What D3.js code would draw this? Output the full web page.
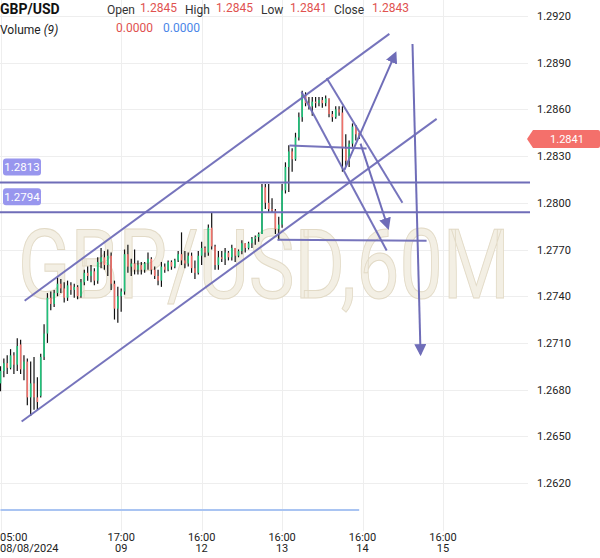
<!DOCTYPE html>
<html>
<head>
<meta charset="utf-8">
<script src="https://cdn.jsdelivr.net/npm/d3@7"></script>
<style>
  html, body { margin: 0; padding: 0; background: #fff; }
  svg { display: block; font-family: Roboto, "Noto Sans", sans-serif; }
</style>
</head>
<body>
<svg id="chart"></svg>
<script>
"use strict";

// hourly candles, [open, high, low, close], bar 0 = 08/08 05:00
const candles = [
  [1.2684,1.2695,1.2679,1.2692],[1.2692,1.2700,1.2688,1.2697],[1.2697,1.2702,1.2690,1.2694],[1.2694,1.2706,1.2693,1.2702],
  [1.2702,1.2704,1.2690,1.2696],[1.2696,1.2713,1.2692,1.2708],[1.2709,1.2712,1.2690,1.2693],[1.2693,1.2702,1.2686,1.2698],
  [1.2698,1.2700,1.2670,1.2675],[1.2675,1.2698,1.2663,1.2684],[1.2684,1.2701,1.2667,1.2675],[1.2675,1.2688,1.2667,1.2672],
  [1.2676,1.2703,1.2675,1.2701],[1.2701,1.2722,1.2699,1.2716],[1.2716,1.2742,1.2710,1.2739],[1.2739,1.2743,1.2731,1.2735],
  [1.2735,1.2744,1.2733,1.2742],[1.2742,1.2752,1.2740,1.2748],[1.2748,1.2751,1.2742,1.2745],[1.2745,1.2749,1.2736,1.2739],
  [1.2739,1.2750,1.2737,1.2747],[1.2747,1.2749,1.2741,1.2744],[1.2744,1.2748,1.2739,1.2746],[1.2746,1.2747,1.2738,1.2740],
  [1.2740,1.2751,1.2739,1.2749],[1.2749,1.2757,1.2747,1.2755],[1.2755,1.2759,1.2750,1.2753],[1.2753,1.2760,1.2749,1.2756],
  [1.2756,1.2758,1.2747,1.2750],[1.2750,1.2765,1.2748,1.2762],[1.2762,1.2771,1.2758,1.2765],[1.2765,1.2769,1.2757,1.2760],
  [1.2760,1.2770,1.2753,1.2766],[1.2766,1.2768,1.2744,1.2748],[1.2748,1.2750,1.2725,1.2732],[1.2732,1.2746,1.2723,1.2740],
  [1.2740,1.2745,1.2730,1.2743],[1.2743,1.2770,1.2741,1.2767],[1.2767,1.2773,1.2755,1.2759],[1.2759,1.2764,1.2753,1.2761],
  [1.2761,1.2770,1.2754,1.2757],[1.2757,1.2763,1.2754,1.2760],[1.2760,1.2762,1.2754,1.2757],[1.2757,1.2762,1.2755,1.2761],
  [1.2761,1.2768,1.2757,1.2764],[1.2764,1.2765,1.2754,1.2757],[1.2757,1.2759,1.2751,1.2753],[1.2753,1.2757,1.2747,1.2750],
  [1.2750,1.2762,1.2746,1.2759],[1.2759,1.2761,1.2755,1.2757],[1.2757,1.2763,1.2756,1.2762],[1.2762,1.2763,1.2757,1.2759],
  [1.2759,1.2764,1.2758,1.2763],[1.2763,1.2769,1.2762,1.2767],[1.2767,1.2781,1.2760,1.2763],[1.2763,1.2769,1.2758,1.2761],
  [1.2761,1.2768,1.2759,1.2766],[1.2766,1.2768,1.2755,1.2758],[1.2758,1.2763,1.2751,1.2755],[1.2755,1.2769,1.2754,1.2766],
  [1.2766,1.2775,1.2760,1.2771],[1.2771,1.2772,1.2765,1.2768],[1.2768,1.2786,1.2766,1.2784],[1.2784,1.2794,1.2770,1.2772],
  [1.2772,1.2773,1.2757,1.2760],[1.2760,1.2769,1.2757,1.2765],[1.2765,1.2769,1.2762,1.2764],[1.2764,1.2771,1.2760,1.2768],
  [1.2768,1.2769,1.2763,1.2765],[1.2765,1.2773,1.2763,1.2771],[1.2771,1.2771,1.2762,1.2766],[1.2766,1.2770,1.2765,1.2769],
  [1.2769,1.2776,1.2767,1.2774],[1.2774,1.2774,1.2768,1.2771],[1.2771,1.2775,1.2770,1.2774],[1.2774,1.2778,1.2771,1.2777],
  [1.2777,1.2779,1.2773,1.2778],[1.2778,1.2781,1.2775,1.2780],[1.2780,1.2812,1.2780,1.2810],[1.2810,1.2812,1.2796,1.2800],
  [1.2800,1.2812,1.2794,1.2796],[1.2796,1.2803,1.2794,1.2795],[1.2795,1.2796,1.2780,1.2783],[1.2783,1.2791,1.2776,1.2786],
  [1.2786,1.2812,1.2784,1.2808],[1.2808,1.2826,1.2806,1.2823],[1.2823,1.2837,1.2807,1.2833],[1.2833,1.2835,1.2820,1.2828],
  [1.2828,1.2845,1.2827,1.2842],[1.2842,1.2858,1.2840,1.2855],[1.2855,1.2872,1.2852,1.2869],[1.2869,1.2871,1.2862,1.2864],
  [1.2864,1.2868,1.2860,1.2862],[1.2862,1.2868,1.2856,1.2865],[1.2865,1.2868,1.2861,1.2864],[1.2864,1.2868,1.2862,1.2866],
  [1.2866,1.2868,1.2861,1.2864],[1.2864,1.2869,1.2862,1.2867],[1.2867,1.2867,1.2855,1.2857],[1.2857,1.2859,1.2852,1.2855],
  [1.2855,1.2862,1.2854,1.2860],[1.2860,1.2862,1.2856,1.2858],[1.2858,1.2862,1.2820,1.2835],[1.2835,1.2844,1.2823,1.2827],
  [1.2827,1.2840,1.2823,1.2838],[1.2838,1.2851,1.2836,1.2849],[1.2849,1.2850,1.2840,1.2844],[1.2845,1.2845,1.2841,1.2843]
];

// volume MA(9) – flat zero over the whole range
const volumeMA = [[0, 0], [107, 0]];

const priceTicks = [1.2620, 1.2650, 1.2680, 1.2710, 1.2740, 1.2770, 1.2800, 1.2830, 1.2860, 1.2890, 1.2920];
const timeTicks = [0, 36, 60, 84, 108, 132];
const timeLabels = [["05:00", "08/08/2024"], ["17:00", "09"], ["16:00", "12"], ["16:00", "13"], ["16:00", "14"], ["16:00", "15"]];

// header values
const ohlcNames = ["Open", "High", "Low", "Close"];
const ohlcValues = ["1.2845", "1.2845", "1.2841", "1.2843"];
const lastPrice = 1.2841;

// horizontal levels with their labels
const levels = [1.2813, 1.2794];

// drawn trend lines, [[bar, price], [bar, price]]
const trendLines = [
  [[7.2, 1.27371], [116.0, 1.29085]],   // channel top
  [[6.3, 1.26595], [130.1, 1.28539]],   // channel bottom
  [[89.8, 1.28712], [115.2, 1.27694]],  // fall from the top
  [[97.3, 1.28802], [119.9, 1.28000]],  // second fall
  [[86.2, 1.28368], [109.2, 1.28349]],  // flat ledge
  [[82.6, 1.27763], [127.1, 1.27757]]   // support ledge
];
const arrows = [
  [[102.6, 1.28212], [117.8, 1.28960]],
  [[107.4, 1.28380], [115.6, 1.27840]],
  [[122.9, 1.29020], [125.3, 1.27030]]
];

const width = 600, height = 558;
const plotRight = 528;
const purple = "#6f6db8";

const svg = d3.select("#chart")
  .attr("width", width)
  .attr("height", height);

const x = d3.scaleLinear().domain([0, 132]).range([0.5, 443]);
const y = d3.scaleLinear().domain([1.2620, 1.2920]).range([483, 16]);
const yVol = d3.scaleLinear().domain([0, 1]).range([510, 490]);

// grid
svg.append("g")
  .selectAll("line")
  .data(priceTicks)
  .join("line")
  .attr("x1", 0).attr("x2", plotRight)
  .attr("y1", d => Math.round(y(d)) + 0.5).attr("y2", d => Math.round(y(d)) + 0.5)
  .attr("stroke", "#eeeeee");
svg.append("g")
  .selectAll("line")
  .data(timeTicks)
  .join("line")
  .attr("x1", d => Math.round(x(d)) + 0.5).attr("x2", d => Math.round(x(d)) + 0.5)
  .attr("y1", 0).attr("y2", 531)
  .attr("stroke", "#eeeeee");

// watermark
svg.append("text")
  .attr("x", 18)
  .attr("y", 298)
  .attr("textLength", 492)
  .attr("lengthAdjust", "spacingAndGlyphs")
  .style("font-size", "96px")
  .attr("fill", "#f3efe4")
  .attr("stroke", "#e2dac6")
  .attr("stroke-width", 1)
  .text("GBP/USD,60M");

// candles
const candle = svg.append("g")
  .selectAll("g")
  .data(candles)
  .join("g");
candle.append("line")
  .attr("x1", (d, i) => x(i)).attr("x2", (d, i) => x(i))
  .attr("y1", d => y(d[1])).attr("y2", d => y(d[2]))
  .attr("stroke", "#111")
  .attr("stroke-width", 1.2);
candle.append("rect")
  .attr("x", (d, i) => x(i) - 0.8)
  .attr("width", 1.6)
  .attr("y", d => y(Math.max(d[0], d[3])))
  .attr("height", d => Math.max(1, Math.abs(y(d[0]) - y(d[3]))))
  .attr("fill", d => d[3] >= d[0] ? "#1fc27a" : "#f0716a");

// volume line
svg.append("path")
  .datum(volumeMA)
  .attr("d", d3.line().x(d => x(d[0])).y(d => yVol(d[1])))
  .attr("stroke", "#a9c4f2")
  .attr("stroke-width", 2)
  .attr("fill", "none");

// horizontal levels
svg.append("g")
  .selectAll("line")
  .data(levels)
  .join("line")
  .attr("x1", 0).attr("x2", 530)
  .attr("y1", d => y(d)).attr("y2", d => y(d))
  .attr("stroke", purple)
  .attr("stroke-width", 2);
const levelTag = svg.append("g")
  .selectAll("g")
  .data(levels)
  .join("g")
  .attr("transform", d => `translate(3,${y(d) - 24})`);
levelTag.append("rect")
  .attr("width", 38).attr("height", 17).attr("rx", 3)
  .attr("fill", "#9896ee");
levelTag.append("text")
  .attr("x", 19).attr("y", 12.5)
  .attr("text-anchor", "middle")
  .attr("fill", "#fff")
  .style("font-size", "11.5px")
  .text(d => d.toFixed(4));

// trend lines
svg.append("g")
  .selectAll("line")
  .data(trendLines)
  .join("line")
  .attr("x1", d => x(d[0][0])).attr("y1", d => y(d[0][1]))
  .attr("x2", d => x(d[1][0])).attr("y2", d => y(d[1][1]))
  .attr("stroke", purple)
  .attr("stroke-width", 2)
  .attr("stroke-opacity", 0.95);

// arrows
svg.append("defs").append("marker")
  .attr("id", "head")
  .attr("viewBox", "0 0 10 10")
  .attr("refX", 8).attr("refY", 5)
  .attr("markerWidth", 6).attr("markerHeight", 6)
  .attr("orient", "auto")
  .append("path")
  .attr("d", "M0,0L10,5L0,10z")
  .attr("fill", purple);
svg.append("g")
  .selectAll("line")
  .data(arrows)
  .join("line")
  .attr("x1", d => x(d[0][0])).attr("y1", d => y(d[0][1]))
  .attr("x2", d => x(d[1][0])).attr("y2", d => y(d[1][1]))
  .attr("stroke", purple)
  .attr("stroke-width", 2)
  .attr("marker-end", "url(#head)");

// price axis
svg.append("g")
  .selectAll("text")
  .data(priceTicks)
  .join("text")
  .attr("x", 537)
  .attr("y", d => y(d) + 4)
  .attr("fill", "#222")
  .style("font-size", "11px")
  .text(d => d.toFixed(4));

// last price tag
const lp = svg.append("g").attr("transform", `translate(0,${y(lastPrice)})`);
lp.append("path")
  .attr("d", "M527,0L533,-9H598Q600,-9 600,-7V7Q600,9 598,9H533Z")
  .attr("fill", "#f4706b");
lp.append("text")
  .attr("x", 567).attr("y", 4)
  .attr("text-anchor", "middle")
  .attr("fill", "#fff")
  .style("font-size", "11px")
  .text(lastPrice.toFixed(4));

// time axis
const tl = svg.append("g")
  .selectAll("text")
  .data(timeTicks)
  .join("text")
  .attr("x", (d, i) => i === 0 ? 0 : x(d))
  .attr("text-anchor", (d, i) => i === 0 ? "start" : "middle")
  .attr("fill", "#222")
  .style("font-size", "11px");
tl.append("tspan").attr("y", 541).text((d, i) => timeLabels[i][0]);
tl.append("tspan").attr("x", (d, i) => i === 0 ? 0 : x(d)).attr("y", 552).text((d, i) => timeLabels[i][1]);

// header
svg.append("text")
  .attr("x", 0).attr("y", 14)
  .attr("fill", "#111")
  .style("font-size", "14px").style("font-weight", "bold")
  .text("GBP/USD");
const hdrX = [107, 185, 261, 334];
const valX = [140, 216, 290, 372];
svg.append("g")
  .selectAll("text")
  .data(ohlcNames)
  .join("text")
  .attr("x", (d, i) => hdrX[i]).attr("y", 14)
  .attr("fill", "#333")
  .style("font-size", "12px")
  .text(d => d);
svg.append("g")
  .selectAll("text")
  .data(ohlcValues)
  .join("text")
  .attr("x", (d, i) => valX[i]).attr("y", 12)
  .attr("fill", "#e0524f")
  .style("font-size", "12px")
  .text(d => d);
const vol = svg.append("text")
  .attr("x", 0).attr("y", 34)
  .attr("fill", "#222")
  .style("font-size", "12px");
vol.append("tspan").text("Volume ");
vol.append("tspan").style("font-style", "italic").text("(9)");
svg.append("text")
  .attr("x", 116).attr("y", 32)
  .attr("fill", "#e0524f")
  .style("font-size", "12px")
  .text("0.0000");
svg.append("text")
  .attr("x", 163).attr("y", 32)
  .attr("fill", "#4a86e8")
  .style("font-size", "12px")
  .text("0.0000");
</script>
</body>
</html>
